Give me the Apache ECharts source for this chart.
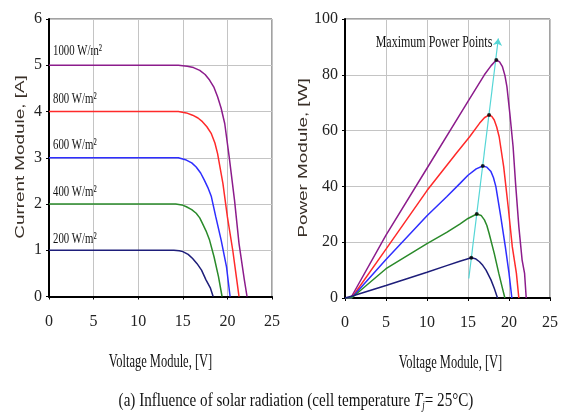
<!DOCTYPE html>
<html><head><meta charset="utf-8">
<script src="https://cdn.jsdelivr.net/npm/echarts@6/dist/echarts.min.js"></script>
<style>html,body{margin:0;padding:0;background:#fff}#c{width:561px;height:414px}</style>
</head><body><div id="c"></div>
<script>
// ---- Data ----
const irradianceLabels = ['1000 W/m²', '800 W/m²', '600 W/m²', '400 W/m²', '200 W/m²'];
// I-V curves: [voltage V, current A]
const iv1000 = [[0,5],[14.5,5],[15.5,4.98],[16.2,4.95],[16.9,4.89],[17.5,4.8],[18,4.68],[18.5,4.52],[18.9,4.32],[19.3,4.07],[19.7,3.74],[20.2,3.02],[20.8,2.08],[21.3,1.15],[21.9,0.36],[22.2,0]];
const iv800  = [[0,4],[14.5,4],[15.4,3.97],[16.1,3.92],[16.7,3.86],[17.2,3.78],[17.7,3.67],[18.2,3.52],[18.6,3.32],[18.9,3.09],[19.5,2.44],[20.0,1.72],[20.6,1.0],[21.0,0.43],[21.3,0]];
const iv600  = [[0,3],[14.5,3],[15.4,2.95],[16.0,2.89],[16.5,2.80],[17.0,2.67],[17.4,2.52],[17.8,2.36],[18.2,2.16],[18.7,1.72],[19.3,1.22],[19.9,0.64],[20.3,0]];
const iv400  = [[0,2],[14.2,2],[14.9,1.98],[15.4,1.94],[16.0,1.88],[16.5,1.80],[16.9,1.70],[17.2,1.58],[17.6,1.42],[18.0,1.22],[18.5,0.86],[19.0,0.43],[19.4,0]];
const iv200  = [[0,1],[14,1],[14.6,0.99],[15,0.97],[15.6,0.91],[16.1,0.82],[16.6,0.71],[17.1,0.57],[17.6,0.36],[18.1,0.18],[18.4,0]];
// P-V curves: [voltage V, power W]
const pv1000 = [[0,0],[0.7,0],[5,22.5],[10,46.5],[15,70.5],[17,80],[17.8,83.2],[18.45,85.3],[18.85,84.6],[19.2,82.9],[19.5,79.8],[19.75,75.7],[20.1,66.2],[20.5,54.2],[20.8,41.1],[21.2,25.6],[21.6,13.6],[21.9,8.8],[22.1,0]];
const pv800  = [[0,0],[0.8,0],[5,17.5],[10,38.5],[13.6,52],[15.2,57.8],[16.4,62.6],[17.0,64.6],[17.57,65.6],[17.9,65.1],[18.2,63.8],[18.5,61.3],[18.8,57.8],[19.35,47.1],[19.9,32.7],[20.4,18.4],[20.9,8.9],[21.2,0]];
const pv600  = [[0,0],[0.8,0],[5,13.8],[10,29.5],[12.4,36.3],[14,41],[15,44],[16,46.3],[16.8,47.3],[17.3,46.9],[17.8,45.3],[18.1,43.2],[18.4,39.9],[19.0,29.1],[19.55,18.4],[20.0,8.9],[20.35,0]];
const pv400  = [[0,0],[0.8,0],[5,10.5],[10,19.5],[12.4,23.5],[14,26.5],[15,28.5],[16.07,30.1],[16.6,29.6],[17.0,28],[17.3,26],[17.57,23.2],[18.2,16],[18.75,8.9],[19.15,4.1],[19.5,0]];
const pv200  = [[0,0],[1,0.8],[5,4.5],[10,9.2],[12.4,11.6],[14,13.2],[15.4,14.4],[15.9,14.1],[16.4,13],[16.8,11.7],[17.2,10],[17.8,6.5],[18.2,3.5],[18.6,0]];
// Maximum power points
const mppV = [18.45, 17.57, 16.8, 16.07, 15.4];
const mppP = [85.3, 65.6, 47.3, 30.1, 14.4];
// MPP trend arrow (start, end)
const arrowStart = [15.1, 7];
const arrowEnd = [18.7, 93];

// ---- Styling ----
const colors = ['#8c1c8c', '#ff2a2a', '#2e2eff', '#2a8a2a', '#1e1e7a'];
const serif = 'Liberation Serif';
const ivSets = [iv1000, iv800, iv600, iv400, iv200];
const pvSets = [pv1000, pv800, pv600, pv400, pv200];

function xAxisFor(gi) {
  return {
    gridIndex: gi, type: 'value', min: 0, max: 25, interval: 5,
    axisLine: { show: true, onZero: false, lineStyle: { color: '#000', width: 2 } },
    axisTick: { show: true, length: 3, lineStyle: { color: '#000' } },
    axisLabel: { fontFamily: serif, fontSize: 16, color: '#222', margin: 17 },
    splitLine: { show: true, lineStyle: { color: '#c4c4c4', width: 1 } }
  };
}
function yAxisFor(gi, max, interval) {
  return {
    gridIndex: gi, type: 'value', min: 0, max: max, interval: interval,
    axisLine: { show: true, onZero: false, lineStyle: { color: '#000', width: 2 } },
    axisTick: { show: true, length: 3, lineStyle: { color: '#000' } },
    axisLabel: { fontFamily: serif, fontSize: 16, color: '#222', margin: 7 },
    splitLine: { show: true, lineStyle: { color: '#c4c4c4', width: 1 } }
  };
}

const series = [];
ivSets.forEach((d, i) => series.push({
  type: 'line', xAxisIndex: 0, yAxisIndex: 0, data: d, showSymbol: false,
  smooth: false, lineStyle: { color: colors[i], width: 1.5 }, silent: true
}));
pvSets.forEach((d, i) => series.push({
  type: 'line', xAxisIndex: 1, yAxisIndex: 1, data: d, showSymbol: false,
  smooth: false, lineStyle: { color: colors[i], width: 1.5 }, silent: true
}));
series.push({
  type: 'lines', coordinateSystem: 'cartesian2d', xAxisIndex: 1, yAxisIndex: 1,
  data: [{ coords: [arrowStart, arrowEnd] }],
  symbol: ['none', 'arrow'], symbolSize: 7,
  lineStyle: { color: '#55d6d6', width: 1.2, opacity: 1 }, z: 3
});
series.push({
  type: 'scatter', xAxisIndex: 1, yAxisIndex: 1,
  data: mppV.map((v, i) => [v, mppP[i]]),
  symbol: 'circle', symbolSize: 4, itemStyle: { color: '#000' }, z: 4
});

function txt(x, y, text, opts) {
  return Object.assign({
    type: 'text', x: x, y: y,
    style: Object.assign({ text: text, font: '13px ' + serif, fill: '#111', align: 'left', verticalAlign: 'middle' }, opts.style || {})
  }, opts.el || {});
}

const labelYs = [50.5, 98.5, 145, 191.5, 239];
const graphics = irradianceLabels.map((t, i) => txt(53, labelYs[i], t, { style: { font: '14px ' + serif }, el: { scaleX: 0.77, scaleY: 1.1 } }));
graphics.push(txt(20, 157, 'Current Module, [A]', { style: { font: '13px "Liberation Sans"', fill: '#3a3028', align: 'center' }, el: { rotation: Math.PI / 2, scaleX: 1.45 } }));
graphics.push(txt(303, 158, 'Power Module, [W]', { style: { font: '13px "Liberation Sans"', fill: '#3a3028', align: 'center' }, el: { rotation: Math.PI / 2, scaleX: 1.45 } }));
graphics.push(txt(160.5, 362, 'Voltage Module, [V]', { style: { font: '16px ' + serif, align: 'center' }, el: { scaleX: 0.78, scaleY: 1.12 } }));
graphics.push(txt(450.5, 363, 'Voltage Module, [V]', { style: { font: '16px ' + serif, align: 'center' }, el: { scaleX: 0.78, scaleY: 1.12 } }));
graphics.push(txt(434, 43, 'Maximum Power Points', { style: { font: '15px ' + serif, align: 'center' }, el: { scaleX: 0.8, scaleY: 1.1 } }));
graphics.push({
  type: 'text', x: 296, y: 401, scaleX: 0.89, scaleY: 1.15,
  style: {
    text: '{n|(a) Influence of solar radiation (cell temperature }{i|T}{s|j}{n|= 25°C)}',
    align: 'center', verticalAlign: 'middle', fill: '#111',
    rich: {
      n: { font: '17px ' + serif, fill: '#111' },
      i: { font: 'italic 17px ' + serif, fill: '#111' },
      s: { font: 'italic 10px ' + serif, fill: '#111', verticalAlign: 'bottom', padding: [8, 0, 0, 0] }
    }
  }
});

const chart = echarts.init(document.getElementById('c'), null, { renderer: 'canvas' });
chart.setOption({
  animation: false,
  backgroundColor: '#fff',
  grid: [
    { left: 49, top: 19, width: 223, height: 277.5, show: true, borderColor: '#444', borderWidth: 1, backgroundColor: 'transparent' },
    { left: 345, top: 19, width: 211, height: 279, show: true, borderColor: '#444', borderWidth: 1, backgroundColor: 'transparent' }
  ],
  xAxis: [xAxisFor(0), xAxisFor(1)],
  yAxis: [yAxisFor(0, 6, 1), yAxisFor(1, 100, 20)],
  series: series,
  graphic: graphics
});
</script></body></html>
